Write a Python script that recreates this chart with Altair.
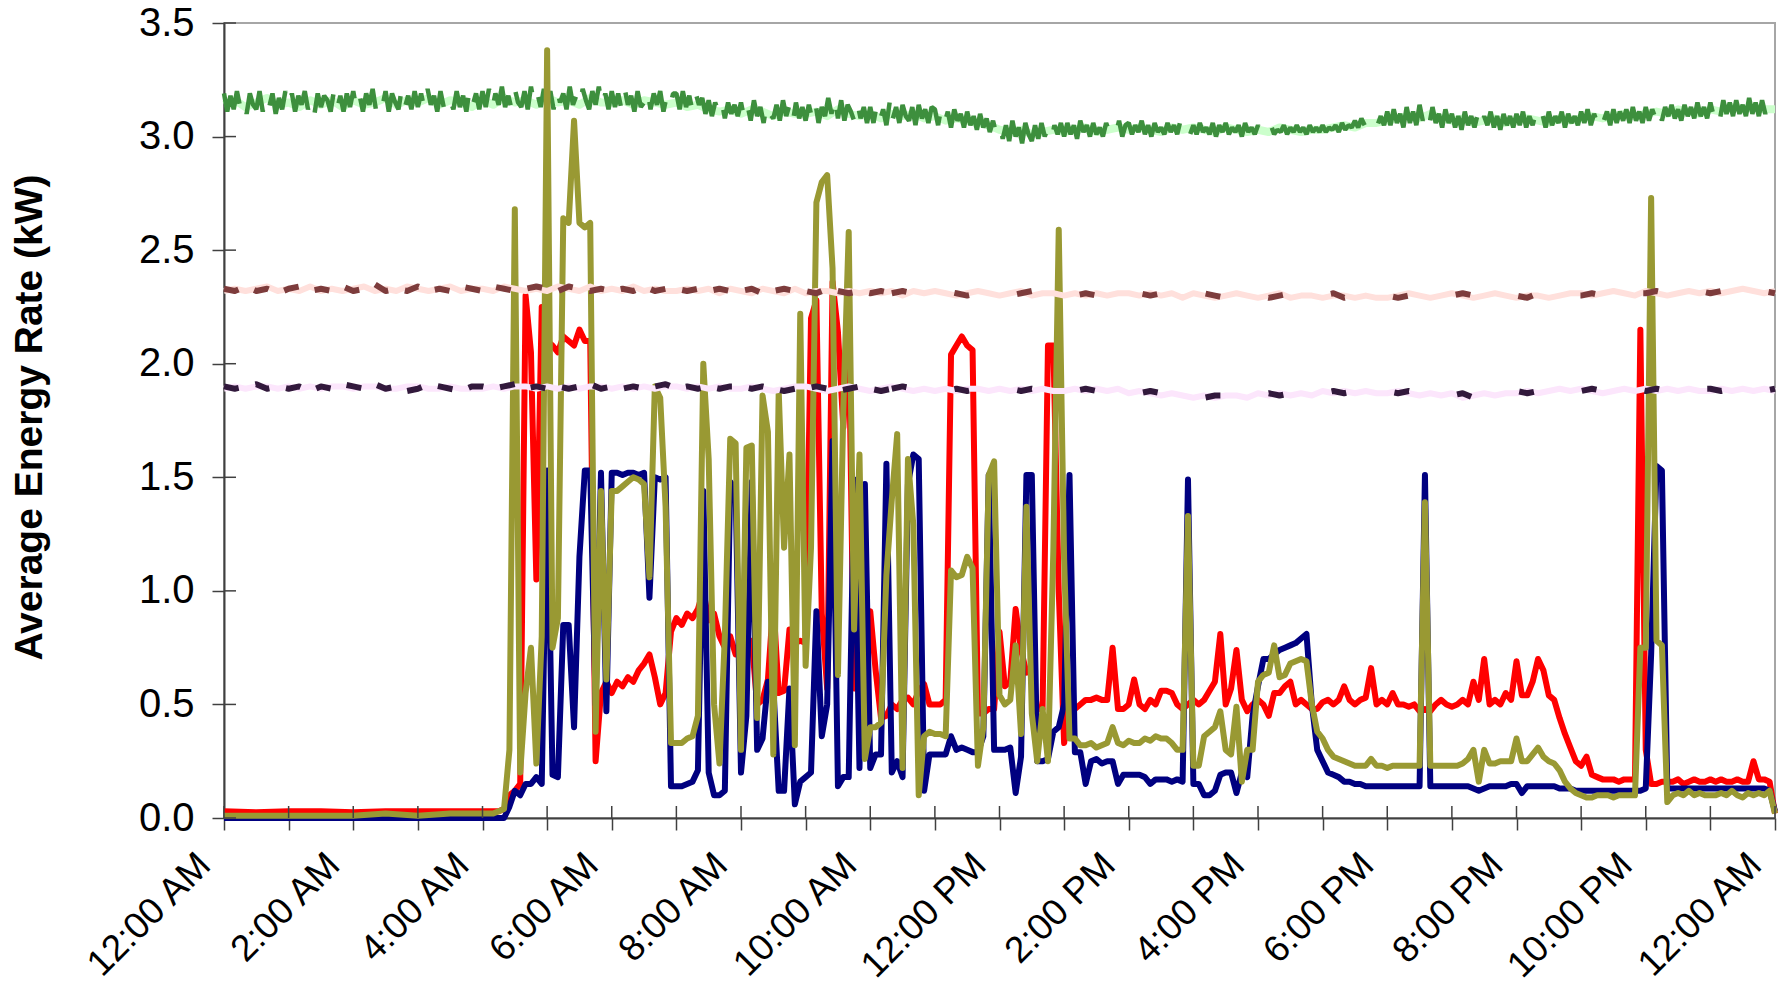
import altair as alt
import pandas as pd

# ---------------- data (minutes after midnight, kW) ----------------
T_MAIN = [0, 30, 60, 90, 120, 150, 180, 210, 240] + list(range(245, 1441, 5))

RED = [
    0.03, 0.025, 0.03, 0.03, 0.025, 0.03, 0.03, 0.03, 0.03,
    0.03, 0.03, 0.03, 0.04, 0.1, 0.12, 0.15, 2.3, 2.05, 1.05, 2.25, 2.1,
    2.08, 2.05, 2.12, 2.1, 2.08, 2.15, 2.1, 2.1, 0.25, 0.55, 0.6, 0.55,
    0.6, 0.58, 0.62, 0.6, 0.65, 0.68, 0.72, 0.62, 0.5, 0.55, 0.82, 0.88,
    0.85, 0.9, 0.88, 0.92, 1.0, 0.87, 0.9, 0.8, 0.75, 0.8, 0.72, 0.78,
    0.75, 0.78, 0.5, 0.52, 0.61, 0.95, 0.55, 0.56, 0.83, 0.77, 0.78, 0.77,
    2.2, 2.28, 0.9, 0.57, 2.36, 2.14, 1.72, 2.16, 0.57, 0.57, 0.6, 0.91,
    0.65, 0.44, 0.45, 0.5, 0.48, 0.52, 0.53, 0.5, 0.56, 0.59, 0.5, 0.5,
    0.5, 0.52, 2.04, 2.08, 2.12, 2.08, 2.06, 0.46, 0.46, 0.48, 0.48, 0.82,
    0.58, 0.6, 0.92, 0.74, 0.64, 0.65, 0.48, 0.48, 2.08, 2.08, 1.0, 0.33,
    0.48, 0.48, 0.5, 0.52, 0.52, 0.53, 0.52, 0.52, 0.75, 0.48, 0.48, 0.5,
    0.61, 0.5, 0.48, 0.52, 0.5, 0.56, 0.56, 0.55, 0.5, 0.48, 0.5, 0.52,
    0.5, 0.52, 0.56, 0.6, 0.81, 0.5, 0.57, 0.74, 0.52, 0.47, 0.5, 0.52,
    0.5, 0.45, 0.55, 0.55, 0.58, 0.6, 0.5, 0.52, 0.5, 0.48, 0.48, 0.51,
    0.52, 0.5, 0.52, 0.58, 0.52, 0.5, 0.52, 0.53, 0.66, 0.5, 0.52, 0.5,
    0.55, 0.5, 0.5, 0.49, 0.5, 0.47, 0.48, 0.47, 0.5, 0.52, 0.5, 0.49,
    0.5, 0.52, 0.5, 0.6, 0.52, 0.7, 0.5, 0.52, 0.5, 0.55, 0.52, 0.69,
    0.54, 0.54, 0.6, 0.7, 0.65, 0.54, 0.52, 0.44, 0.37, 0.31, 0.25, 0.23,
    0.27, 0.19, 0.18, 0.17, 0.17, 0.17, 0.16, 0.17, 0.17, 0.17, 2.15, 0.3,
    0.15, 0.15, 0.16, 0.16, 0.16, 0.17, 0.15, 0.16, 0.17, 0.16, 0.16, 0.17,
    0.16, 0.17, 0.16, 0.16, 0.17, 0.16, 0.16, 0.25, 0.17, 0.17, 0.16, 0.02,
]

NAVY = [
    0.0, 0.0, 0.0, 0.0, 0.0, 0.0, 0.0, 0.0, 0.0,
    0.0, 0.0, 0.0, 0.0, 0.05, 0.12, 0.1, 0.15, 0.15, 0.18, 0.15, 1.53,
    0.19, 0.18, 0.85, 0.85, 0.4, 1.15, 1.53, 1.53, 0.5, 1.52, 0.47, 1.52,
    1.52, 1.51, 1.52, 1.52, 1.51, 1.52, 0.97, 1.5, 1.49, 1.5, 0.14, 0.14,
    0.14, 0.15, 0.16, 0.21, 1.44, 0.2, 0.1, 0.1, 0.12, 1.48, 1.45, 0.2,
    0.45, 1.48, 0.3, 0.35, 0.6, 0.58, 0.12, 0.12, 0.57, 0.06, 0.16, 0.18,
    0.2, 0.91, 0.36, 0.5, 1.66, 0.14, 0.18, 0.18, 1.49, 0.22, 1.47, 0.22,
    0.28, 0.28, 1.56, 0.2, 0.25, 0.18, 1.47, 1.6, 1.58, 0.12, 0.28, 0.28,
    0.28, 0.28, 0.36, 0.3, 0.31, 0.3, 0.29, 0.29, 0.36, 1.51, 0.3, 0.3,
    0.3, 0.31, 0.11, 0.27, 1.51, 1.51, 0.25, 0.25, 0.26, 0.38, 0.4, 0.5,
    1.51, 0.29, 0.29, 0.15, 0.25, 0.26, 0.24, 0.25, 0.25, 0.15, 0.19, 0.19,
    0.19, 0.19, 0.18, 0.15, 0.17, 0.17, 0.17, 0.16, 0.17, 0.16, 1.49, 0.15,
    0.15, 0.1, 0.1, 0.12, 0.19, 0.2, 0.2, 0.11, 0.2, 0.18, 0.45, 0.58,
    0.7, 0.7, 0.72, 0.74, 0.75, 0.76, 0.77, 0.79, 0.81, 0.5, 0.3, 0.25,
    0.2, 0.19, 0.18, 0.16, 0.16, 0.15, 0.15, 0.14, 0.14, 0.14, 0.14, 0.14,
    0.14, 0.14, 0.14, 0.14, 0.14, 0.14, 1.51, 0.14, 0.14, 0.14, 0.14, 0.14,
    0.14, 0.14, 0.14, 0.13, 0.12, 0.13, 0.14, 0.14, 0.14, 0.14, 0.15, 0.15,
    0.11, 0.14, 0.14, 0.14, 0.14, 0.14, 0.14, 0.13, 0.13, 0.13, 0.12, 0.12,
    0.12, 0.12, 0.12, 0.12, 0.12, 0.12, 0.12, 0.12, 0.12, 0.12, 0.12, 0.13,
    0.72, 1.55, 1.53, 0.13, 0.13, 0.13, 0.13, 0.13, 0.13, 0.13, 0.13, 0.13,
    0.13, 0.13, 0.13, 0.13, 0.13, 0.13, 0.13, 0.13, 0.13, 0.13, 0.12, 0.03,
]

OLIVE = [
    0.01, 0.01, 0.01, 0.01, 0.01, 0.02, 0.01, 0.02, 0.02,
    0.02, 0.02, 0.03, 0.04, 0.3, 2.68, 0.2, 0.55, 0.75, 0.24, 0.8, 3.38,
    0.75, 0.88, 2.64, 2.62, 3.07, 2.62, 2.6, 2.62, 0.38, 1.44, 0.61, 1.44,
    1.44, 1.46, 1.48, 1.5, 1.49, 1.47, 1.06, 1.9, 1.85, 1.37, 0.33, 0.33,
    0.33, 0.35, 0.36, 0.45, 2.0, 1.58, 0.5, 0.24, 0.8, 1.67, 1.65, 0.3,
    1.63, 1.64, 0.44, 1.86, 1.7, 0.28, 1.88, 1.19, 1.6, 0.32, 2.22, 0.67,
    1.19, 2.71, 2.8, 2.83, 2.42, 0.63, 1.8, 2.58, 0.83, 1.6, 0.26, 0.4,
    0.4, 0.42, 1.07, 1.4, 1.69, 0.22, 1.58, 1.29, 0.1, 0.36, 0.38, 0.37,
    0.37, 0.36, 1.09, 1.06, 1.07, 1.15, 1.1, 0.23, 0.4, 1.51, 1.57, 0.54,
    0.5, 0.52, 0.76, 0.37, 1.37, 0.46, 0.25, 0.48, 0.25, 1.18, 2.59, 1.14,
    0.35, 0.35, 0.32, 0.32, 0.33, 0.31, 0.32, 0.33, 0.4, 0.33, 0.32, 0.34,
    0.33, 0.33, 0.35, 0.34, 0.36, 0.35, 0.35, 0.33, 0.3, 0.3, 1.33, 0.23,
    0.23, 0.36, 0.38, 0.4, 0.47, 0.3, 0.28, 0.49, 0.16, 0.3, 0.3, 0.6,
    0.63, 0.64, 0.76, 0.62, 0.63, 0.68, 0.69, 0.7, 0.69, 0.5, 0.38, 0.35,
    0.3, 0.27, 0.26, 0.25, 0.24, 0.23, 0.23, 0.23, 0.26, 0.23, 0.23, 0.22,
    0.23, 0.23, 0.23, 0.23, 0.23, 0.23, 1.39, 0.23, 0.23, 0.23, 0.23, 0.23,
    0.23, 0.24, 0.26, 0.3, 0.16, 0.3, 0.24, 0.24, 0.25, 0.25, 0.25, 0.35,
    0.25, 0.25, 0.28, 0.31, 0.27, 0.25, 0.24, 0.21, 0.16, 0.13, 0.11, 0.1,
    0.09, 0.09, 0.1, 0.1, 0.1, 0.09, 0.1, 0.1, 0.1, 0.1, 0.75, 0.75,
    2.73, 0.78, 0.76, 0.07, 0.1, 0.11, 0.1, 0.12, 0.1, 0.11, 0.1, 0.1,
    0.1, 0.11, 0.1, 0.12, 0.1, 0.09, 0.11, 0.1, 0.11, 0.1, 0.12, 0.02,
]

# dark green reference line, read every 3 minutes (20 values per hour)
GREEN_DARK = [
    3.19, 3.11, 3.18, 3.12, 3.20, 3.13, 3.17, 3.10, 3.19, 3.14, 3.12, 3.20, 3.11, 3.18, 3.13, 3.19, 3.10, 3.17, 3.12, 3.20,
    3.13, 3.19, 3.11, 3.18, 3.14, 3.20, 3.12, 3.17, 3.10, 3.19, 3.13, 3.18, 3.16, 3.11, 3.20, 3.12, 3.18, 3.11, 3.19, 3.13,
    3.20, 3.12, 3.18, 3.11, 3.19, 3.14, 3.21, 3.12, 3.17, 3.13, 3.20, 3.11, 3.19, 3.15, 3.12, 3.21, 3.13, 3.18, 3.12, 3.20,
    3.13, 3.19, 3.12, 3.21, 3.14, 3.18, 3.11, 3.20, 3.13, 3.19, 3.16, 3.12, 3.20, 3.13, 3.18, 3.11, 3.21, 3.14, 3.19, 3.12,
    3.20, 3.13, 3.21, 3.12, 3.19, 3.14, 3.22, 3.13, 3.18, 3.12, 3.21, 3.15, 3.13, 3.20, 3.12, 3.22, 3.14, 3.19, 3.13, 3.21,
    3.14, 3.20, 3.12, 3.21, 3.15, 3.19, 3.12, 3.22, 3.14, 3.18, 3.13, 3.21, 3.16, 3.12, 3.20, 3.14, 3.22, 3.13, 3.19, 3.12,
    3.20, 3.13, 3.19, 3.12, 3.21, 3.14, 3.18, 3.11, 3.20, 3.13, 3.15, 3.21, 3.12, 3.19, 3.14, 3.20, 3.11, 3.18, 3.13, 3.19,
    3.19, 3.12, 3.20, 3.13, 3.18, 3.11, 3.19, 3.14, 3.17, 3.10, 3.16, 3.09, 3.15, 3.11, 3.16, 3.08, 3.15, 3.10, 3.14, 3.09,
    3.15, 3.08, 3.14, 3.07, 3.16, 3.09, 3.13, 3.06, 3.15, 3.10, 3.08, 3.14, 3.07, 3.16, 3.09, 3.14, 3.06, 3.15, 3.08, 3.13,
    3.07, 3.14, 3.08, 3.15, 3.06, 3.13, 3.09, 3.17, 3.10, 3.18, 3.08, 3.16, 3.07, 3.14, 3.11, 3.07, 3.15, 3.08, 3.13, 3.06,
    3.13, 3.06, 3.14, 3.07, 3.12, 3.05, 3.15, 3.08, 3.13, 3.06, 3.14, 3.09, 3.07, 3.13, 3.05, 3.14, 3.08, 3.12, 3.06, 3.13,
    3.12, 3.05, 3.13, 3.06, 3.11, 3.04, 3.12, 3.07, 3.10, 3.04, 3.11, 3.05, 3.09, 3.03, 3.10, 3.04, 3.08, 3.02, 3.07, 3.01,
    3.06, 2.99, 3.05, 2.98, 3.07, 3.00, 3.04, 2.97, 3.06, 3.01, 2.98, 3.05, 2.99, 3.06, 3.00, 3.04, 2.98, 3.05, 3.01, 3.06,
    3.00, 3.06, 3.01, 3.05, 2.99, 3.07, 3.02, 3.05, 3.00, 3.06, 3.01, 3.04, 3.00, 3.06, 3.02, 3.05, 3.01, 3.07, 3.00, 3.05,
    3.06, 3.01, 3.05, 3.02, 3.07, 3.01, 3.05, 3.00, 3.06, 3.02, 3.04, 3.01, 3.06, 3.02, 3.05, 3.01, 3.07, 3.02, 3.05, 3.01,
    3.05, 3.01, 3.06, 3.02, 3.04, 3.01, 3.06, 3.00, 3.05, 3.02, 3.06, 3.01, 3.04, 3.02, 3.05, 3.00, 3.06, 3.02, 3.04, 3.01,
    3.05, 3.01, 3.04, 3.02, 3.05, 3.01, 3.03, 3.02, 3.05, 3.01, 3.04, 3.02, 3.05, 3.02, 3.04, 3.01, 3.05, 3.02, 3.04, 3.02,
    3.05, 3.02, 3.04, 3.03, 3.05, 3.02, 3.06, 3.03, 3.05, 3.04, 3.07, 3.04, 3.08, 3.05, 3.07, 3.04, 3.08, 3.05, 3.09, 3.05,
    3.11, 3.05, 3.12, 3.06, 3.10, 3.04, 3.13, 3.06, 3.11, 3.05, 3.14, 3.07, 3.12, 3.05, 3.13, 3.06, 3.10, 3.04, 3.12, 3.06,
    3.10, 3.04, 3.09, 3.03, 3.11, 3.05, 3.09, 3.04, 3.10, 3.03, 3.09, 3.05, 3.11, 3.04, 3.09, 3.03, 3.10, 3.05, 3.09, 3.04,
    3.10, 3.05, 3.11, 3.04, 3.09, 3.05, 3.11, 3.06, 3.10, 3.04, 3.11, 3.05, 3.09, 3.06, 3.11, 3.04, 3.10, 3.06, 3.09, 3.05,
    3.11, 3.06, 3.12, 3.05, 3.10, 3.06, 3.12, 3.07, 3.11, 3.05, 3.12, 3.06, 3.11, 3.07, 3.12, 3.06, 3.13, 3.07, 3.11, 3.06,
    3.13, 3.07, 3.12, 3.08, 3.14, 3.07, 3.13, 3.09, 3.14, 3.08, 3.12, 3.07, 3.14, 3.09, 3.13, 3.08, 3.15, 3.09, 3.13, 3.08,
    3.15, 3.09, 3.14, 3.08, 3.16, 3.10, 3.15, 3.09, 3.16, 3.10, 3.14, 3.09, 3.17, 3.10, 3.15, 3.09, 3.16, 3.10, 3.15, 3.10,
    3.12,
]
T_GREEN_DARK = [3 * i for i in range(len(GREEN_DARK))]

T_10 = list(range(0, 1441, 10))
GREEN_LIGHT = [
    3.14, 3.16, 3.13, 3.15, 3.17, 3.14, 3.15, 3.13, 3.16, 3.14, 3.16, 3.13,
    3.16, 3.14, 3.15, 3.17, 3.14, 3.16, 3.15, 3.17, 3.14, 3.16, 3.15, 3.13,
    3.16, 3.14, 3.17, 3.15, 3.16, 3.14, 3.17, 3.15, 3.16, 3.14, 3.17, 3.15,
    3.15, 3.16, 3.14, 3.16, 3.15, 3.14, 3.15, 3.13, 3.14, 3.12, 3.11, 3.12,
    3.10, 3.12, 3.11, 3.09, 3.11, 3.10, 3.10, 3.11, 3.09, 3.12, 3.10, 3.09,
    3.10, 3.08, 3.10, 3.09, 3.10, 3.08, 3.09, 3.07, 3.08, 3.07, 3.06, 3.05,
    3.03, 3.02, 3.03, 3.01, 3.02, 3.03, 3.02, 3.03, 3.04, 3.02, 3.03, 3.04,
    3.03, 3.04, 3.03, 3.02, 3.04, 3.03, 3.04, 3.03, 3.02, 3.04, 3.03, 3.02,
    3.03, 3.02, 3.04, 3.03, 3.02, 3.03, 3.03, 3.04, 3.05, 3.04, 3.06, 3.06,
    3.07, 3.08, 3.09, 3.08, 3.10, 3.08, 3.07, 3.08, 3.06, 3.07, 3.08, 3.06,
    3.07, 3.08, 3.07, 3.06, 3.08, 3.07, 3.08, 3.09, 3.08, 3.09, 3.10, 3.09,
    3.10, 3.11, 3.10, 3.12, 3.11, 3.10, 3.12, 3.11, 3.13, 3.12, 3.13, 3.12,
    3.12,
]

MAROON_DARK = [
    2.33, 2.32, 2.34, 2.32, 2.33, 2.31, 2.33, 2.34, 2.32, 2.33, 2.32, 2.34,
    2.32, 2.33, 2.35, 2.32, 2.33, 2.32, 2.34, 2.32, 2.33, 2.32, 2.34, 2.33,
    2.32, 2.34, 2.33, 2.32, 2.33, 2.34, 2.33, 2.32, 2.34, 2.33, 2.32, 2.33,
    2.32, 2.33, 2.32, 2.34, 2.32, 2.33, 2.33, 2.32, 2.33, 2.32, 2.33, 2.32,
    2.32, 2.33, 2.31, 2.32, 2.33, 2.32, 2.32, 2.31, 2.33, 2.32, 2.31, 2.32,
    2.31, 2.32, 2.31, 2.32, 2.31, 2.32, 2.31, 2.32, 2.31, 2.30, 2.31, 2.32,
    2.31, 2.30, 2.31, 2.32, 2.31, 2.30, 2.31, 2.30, 2.31, 2.30, 2.31, 2.30,
    2.30, 2.31, 2.30, 2.31, 2.30, 2.30, 2.30, 2.31, 2.30, 2.29, 2.30, 2.31,
    2.30, 2.29, 2.30, 2.31, 2.30, 2.29, 2.30, 2.31, 2.29, 2.30, 2.29, 2.30,
    2.30, 2.29, 2.30, 2.31, 2.30, 2.29, 2.30, 2.31, 2.30, 2.29, 2.30, 2.31,
    2.30, 2.29, 2.31, 2.30, 2.29, 2.30, 2.30, 2.31, 2.30, 2.31, 2.32, 2.31,
    2.31, 2.32, 2.31, 2.30, 2.31, 2.32, 2.31, 2.32, 2.31, 2.32, 2.31, 2.32,
    2.31,
]

PINK_LIGHT = [
    2.32, 2.33, 2.32, 2.33, 2.34, 2.32, 2.33, 2.32, 2.34, 2.32, 2.33, 2.32,
    2.33, 2.34, 2.32, 2.33, 2.32, 2.34, 2.33, 2.32, 2.33, 2.34, 2.32, 2.33,
    2.33, 2.32, 2.34, 2.33, 2.32, 2.33, 2.32, 2.34, 2.33, 2.32, 2.34, 2.32,
    2.33, 2.32, 2.34, 2.32, 2.33, 2.32, 2.32, 2.33, 2.32, 2.33, 2.31, 2.33,
    2.32, 2.31, 2.33, 2.32, 2.31, 2.33, 2.31, 2.32, 2.32, 2.31, 2.32, 2.31,
    2.32, 2.31, 2.32, 2.30, 2.32, 2.31, 2.32, 2.31, 2.30, 2.31, 2.32, 2.31,
    2.30, 2.31, 2.32, 2.30, 2.31, 2.31, 2.30, 2.31, 2.30, 2.31, 2.30, 2.31,
    2.31, 2.30, 2.31, 2.30, 2.31, 2.29, 2.31, 2.30, 2.29, 2.30, 2.31, 2.30,
    2.29, 2.30, 2.31, 2.29, 2.30, 2.30, 2.29, 2.30, 2.30, 2.29, 2.30, 2.29,
    2.29, 2.30, 2.31, 2.30, 2.29, 2.30, 2.31, 2.30, 2.29, 2.30, 2.31, 2.30,
    2.29, 2.30, 2.30, 2.29, 2.30, 2.31, 2.31, 2.30, 2.31, 2.32, 2.31, 2.30,
    2.32, 2.31, 2.30, 2.31, 2.32, 2.31, 2.32, 2.31, 2.32, 2.33, 2.32, 2.31,
    2.32,
]

PURPLE_DARK = [
    1.90, 1.89, 1.90, 1.91, 1.89, 1.90, 1.89, 1.90, 1.88, 1.90, 1.89, 1.91,
    1.90, 1.89, 1.91, 1.89, 1.90, 1.88, 1.89, 1.91, 1.90, 1.89, 1.88, 1.90,
    1.90, 1.89, 1.90, 1.91, 1.89, 1.90, 1.89, 1.90, 1.89, 1.90, 1.91, 1.89,
    1.90, 1.89, 1.90, 1.89, 1.90, 1.91, 1.89, 1.90, 1.89, 1.90, 1.89, 1.90,
    1.90, 1.89, 1.90, 1.89, 1.88, 1.89, 1.89, 1.90, 1.89, 1.88, 1.89, 1.90,
    1.89, 1.88, 1.89, 1.90, 1.89, 1.88, 1.89, 1.88, 1.89, 1.88, 1.89, 1.89,
    1.88, 1.89, 1.88, 1.89, 1.88, 1.89, 1.89, 1.88, 1.89, 1.88, 1.89, 1.88,
    1.88, 1.87, 1.88, 1.87, 1.86, 1.87, 1.86, 1.85, 1.86, 1.86, 1.85, 1.86,
    1.86, 1.87, 1.86, 1.87, 1.86, 1.87, 1.87, 1.88, 1.87, 1.88, 1.87, 1.88,
    1.88, 1.87, 1.88, 1.87, 1.86, 1.87, 1.86, 1.87, 1.85, 1.86, 1.87, 1.88,
    1.88, 1.87, 1.88, 1.89, 1.88, 1.87, 1.88, 1.89, 1.88, 1.87, 1.88, 1.89,
    1.88, 1.89, 1.88, 1.89, 1.88, 1.89, 1.89, 1.88, 1.89, 1.88, 1.89, 1.88,
    1.89,
]

LAVENDER_LIGHT = [
    1.89, 1.90, 1.89, 1.90, 1.90, 1.89, 1.90, 1.89, 1.90, 1.89, 1.90, 1.90,
    1.89, 1.90, 1.90, 1.89, 1.89, 1.90, 1.90, 1.89, 1.89, 1.90, 1.89, 1.89,
    1.89, 1.90, 1.89, 1.90, 1.90, 1.89, 1.90, 1.89, 1.90, 1.89, 1.90, 1.90,
    1.89, 1.90, 1.89, 1.90, 1.89, 1.90, 1.90, 1.89, 1.90, 1.89, 1.90, 1.89,
    1.89, 1.90, 1.89, 1.88, 1.89, 1.90, 1.90, 1.89, 1.88, 1.89, 1.90, 1.89,
    1.88, 1.89, 1.90, 1.89, 1.88, 1.89, 1.88, 1.89, 1.88, 1.89, 1.89, 1.88,
    1.89, 1.88, 1.89, 1.88, 1.89, 1.88, 1.88, 1.89, 1.88, 1.89, 1.88, 1.89,
    1.87, 1.88, 1.87, 1.86, 1.87, 1.86, 1.85, 1.86, 1.85, 1.86, 1.86, 1.85,
    1.87, 1.86, 1.87, 1.86, 1.87, 1.86, 1.88, 1.87, 1.88, 1.87, 1.88, 1.87,
    1.87, 1.88, 1.87, 1.86, 1.87, 1.86, 1.87, 1.85, 1.86, 1.87, 1.86, 1.87,
    1.87, 1.88, 1.87, 1.88, 1.89, 1.88, 1.89, 1.88, 1.87, 1.88, 1.89, 1.88,
    1.89, 1.88, 1.89, 1.88, 1.89, 1.88, 1.88, 1.89, 1.88, 1.89, 1.88, 1.89,
    1.88,
]

Y_TICKS = [0.0, 0.5, 1.0, 1.5, 2.0, 2.5, 3.0, 3.5]
X_TICKS = list(range(0, 1441, 60))
Y_TITLE = "Average Energy Rate (kW)"
DASH_SWITCH = 620  # minute where the dash spacing of the dark reference lines widens

# ---------------- chart ----------------
W, H = 1551, 795
FONT = "Liberation Sans"

x_label_expr = (
    "(datum.value / 60) % 2 == 0 ? "
    "(((datum.value / 60) % 12 == 0 ? 12 : (datum.value / 60) % 12) + ':00 ' + "
    "((datum.value / 60) % 24 < 12 ? 'AM' : 'PM')) : ''"
)

X = alt.X(
    "t:Q",
    scale=alt.Scale(domain=[0, 1440], nice=False, zero=False),
    axis=alt.Axis(
        values=X_TICKS, labelExpr=x_label_expr, title=None, grid=False,
        labelAngle=-45, labelAlign="right", labelBaseline="alphabetic",
        labelPadding=37, labelOffset=-12, labelFontSize=37, labelFont=FONT,
        labelColor="#000000",
        labelOverlap=False, labelFlush=False, labelBound=False,
        tickSize=12, tickWidth=1.5, tickColor="#404040",
        domainColor="#404040", domainWidth=2,
    ),
)
Y = alt.Y(
    "v:Q",
    scale=alt.Scale(domain=[0, 3.5], nice=False),
    axis=alt.Axis(
        values=Y_TICKS, format=".1f", title=Y_TITLE, grid=False,
        labelFontSize=40, labelFont=FONT, labelColor="#000000", labelPadding=18,
        labelBaseline="middle",
        tickSize=12, tickWidth=1.5, tickColor="#404040",
        domainColor="#404040", domainWidth=2,
        titleFont=FONT, titleFontSize=39, titleFontWeight="bold", titleColor="#000000",
        titleAngle=270, titleX=-195, titleY=394, titleAlign="center",
        titleBaseline="middle",
    ),
)


def frame(ts, vs):
    return pd.DataFrame({"t": ts, "v": vs})


def line(df, color, width, dash=None, join="round"):
    kw = dict(color=color, strokeWidth=width, strokeJoin=join, strokeCap="butt")
    if dash is not None:
        kw["strokeDash"] = dash
    return alt.Chart(df).mark_line(**kw).encode(x=X, y=Y)


def dashed_pair(ts, vs, color, width, dash_a, dash_b, join="round"):
    df = frame(ts, vs)
    a = df[df.t <= DASH_SWITCH]
    b = df[df.t >= DASH_SWITCH]
    return [line(a, color, width, dash_a, join), line(b, color, width, dash_b, join)]


layers = []
layers.append(line(frame(T_10, GREEN_LIGHT), "#ccffcc", 8))
layers += dashed_pair(T_GREEN_DARK, GREEN_DARK, "#3d8f3d", 4.5, [80, 28], [200, 32],
                      join="bevel")
layers.append(line(frame(T_MAIN, RED), "#ff0000", 6))
layers.append(line(frame(T_MAIN, NAVY), "#000080", 6))
layers.append(line(frame(T_MAIN, OLIVE), "#999933", 6))
layers.append(line(frame(T_10, PINK_LIGHT), "#ffe0dc", 6))
layers += dashed_pair(T_10, MAROON_DARK, "#7d3c3c", 6, [15, 17], [15, 49])
layers.append(line(frame(T_10, LAVENDER_LIGHT), "#fce6fc", 6))
layers += dashed_pair(T_10, PURPLE_DARK, "#32193c", 6, [15, 17], [15, 49])

# inner halves of the crossing tick marks
ytick_in = alt.Chart(pd.DataFrame({"v": Y_TICKS})).mark_rule(
    color="#404040", strokeWidth=1.5
).encode(y=Y, x=alt.value(0), x2=alt.value(12))
xtick_in = alt.Chart(pd.DataFrame({"t": X_TICKS})).mark_rule(
    color="#404040", strokeWidth=1.5
).encode(x=X, y=alt.value(H - 12), y2=alt.value(H))
layers += [ytick_in, xtick_in]

chart = (
    alt.layer(*layers)
    .properties(
        width=W, height=H,
        autosize=alt.AutoSizeParams(type="none"),
        padding={"left": 216, "top": 15, "right": 4, "bottom": 167},
        background="#ffffff",
    )
    .configure_view(stroke="#a6a6a6", strokeWidth=2)
)

chart.save("out.html", embed_options={"renderer": "svg", "actions": False})
